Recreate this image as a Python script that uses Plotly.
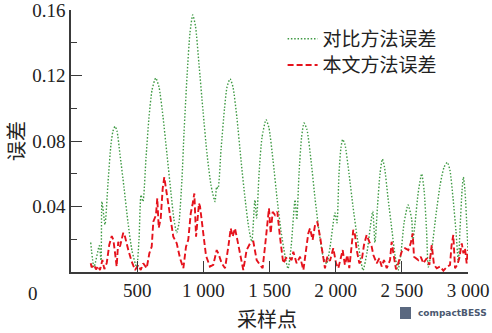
import plotly.graph_objects as go

# ---- data ----
cmp_x = [149, 174, 214, 227, 234, 257, 280, 302, 317, 333, 348, 370, 400, 431, 461, 496,
         514, 529, 544, 567, 589, 612, 640, 665, 695, 725, 756, 778, 799, 816, 838,
         854, 877, 899, 920, 941, 967, 998, 1028, 1058, 1088, 1101, 1111,
         1134, 1160, 1179, 1202, 1224, 1254, 1285, 1315, 1345, 1366, 1390, 1403,
         1421, 1443, 1474, 1496, 1527, 1557, 1587, 1617, 1640, 1663, 1693, 1706,
         1723, 1742, 1761, 1783, 1814, 1844, 1874, 1904, 1932, 1957, 1995, 2010,
         2025, 2040, 2053, 2070, 2101, 2131, 2161, 2184, 2207, 2237, 2280, 2297,
         2316, 2335, 2353, 2369, 2396, 2426, 2449, 2471, 2494, 2517, 2547, 2575, 2582,
         2600, 2623, 2650, 2668, 2687, 2700, 2728, 2758, 2789, 2819, 2844, 2864, 2887,
         2909, 2927, 2939, 2955, 2965, 2977, 2993, 3000]
cmp_err = [0.018, 0.003, 0.016, 0.007, 0.043, 0.029, 0.055, 0.078, 0.086, 0.089, 0.086, 0.072, 0.052, 0.030, 0.013, 0.003,
           0.020, 0.047, 0.043, 0.070, 0.094, 0.111, 0.1185, 0.113, 0.095, 0.072, 0.048, 0.032, 0.024, 0.030, 0.056,
           0.085, 0.120, 0.146, 0.157, 0.150, 0.127, 0.098, 0.072, 0.053, 0.043, 0.052, 0.051,
           0.075, 0.100, 0.113, 0.118, 0.113, 0.094, 0.068, 0.045, 0.026, 0.0185, 0.044, 0.033,
           0.060, 0.082, 0.093, 0.088, 0.068, 0.045, 0.025, 0.010, 0.002, 0.015, 0.044, 0.032,
           0.060, 0.082, 0.091, 0.087, 0.068, 0.045, 0.025, 0.010, 0.005, 0.015, 0.036, 0.030,
           0.060, 0.076, 0.081, 0.078, 0.060, 0.040, 0.022, 0.010, 0.001, 0.012, 0.037, 0.018,
           0.040, 0.060, 0.069, 0.064, 0.045, 0.025, 0.010, 0.001, 0.012, 0.030, 0.041, 0.032, 0.018,
           0.030, 0.048, 0.060, 0.050, 0.025, 0.003, 0.015, 0.035, 0.053, 0.064, 0.067, 0.062, 0.045,
           0.025, 0.006, 0.025, 0.050, 0.058, 0.050, 0.025, 0.013]

our_x = [149, 156, 174, 189, 206, 219, 237, 252, 270, 289, 308, 320, 333, 345, 357, 370, 395, 408,
         433, 459, 484, 509, 527, 546, 572, 592, 610, 622, 642, 652, 663, 678, 693, 705, 723, 748,
         773, 799, 824, 849, 869, 886, 905, 920, 932, 945, 957, 967, 975, 995, 1020, 1050, 1075,
         1101, 1113, 1139, 1164, 1189, 1207, 1222, 1239, 1257, 1277, 1302, 1327, 1353, 1378, 1403,
         1428, 1448, 1466, 1479, 1496, 1509, 1524, 1542, 1559, 1579, 1604, 1624, 1642, 1667, 1680,
         1705, 1731, 1756, 1776, 1793, 1806, 1826, 1844, 1861, 1882, 1902, 1919, 1937, 1957, 1982,
         2003, 2020, 2038, 2053, 2070, 2088, 2103, 2121, 2133, 2146, 2159, 2179, 2197, 2214, 2234,
         2254, 2272, 2285, 2310, 2330, 2348, 2365, 2386, 2411, 2423, 2436, 2456, 2473, 2499, 2524,
         2549, 2567, 2582, 2592, 2607, 2625, 2643, 2663, 2688, 2708, 2726, 2743, 2764, 2789, 2814,
         2839, 2864, 2876, 2889, 2902, 2919, 2934, 2953, 2965, 2977, 2990, 2998]
our_err = [0.0053, 0.0029, 0.0043, 0.0016, 0.0037, 0.0012, 0.0073, 0.0018, 0.0055, 0.0165, 0.022, 0.0196,
           0.0116, 0.0033, 0.0185, 0.0155, 0.024, 0.0216, 0.0134, 0.0063, 0.0012, 0.0043, 0.0012, 0.0053,
           0.0023, 0.0114, 0.0155, 0.0307, 0.0348, 0.045, 0.0269, 0.0328, 0.0511, 0.0579, 0.0481, 0.0359,
           0.0216, 0.0175, 0.0084, 0.0023, 0.0155, 0.0196, 0.0359, 0.042, 0.048, 0.0216, 0.0359, 0.042,
           0.040, 0.028, 0.010, 0.0033, 0.0043, 0.0134, 0.0114, 0.0053, 0.0023, 0.0155, 0.0267, 0.0216,
           0.0267, 0.0196, 0.0114, 0.0012, 0.0134, 0.0175, 0.0185, 0.0073, 0.0043, 0.0023, 0.0155, 0.0277,
           0.0389, 0.0236, 0.0368, 0.0348, 0.0368, 0.0216, 0.0053, 0.0084, 0.0093, 0.0073, 0.0124, 0.0053,
           0.0093, 0.0012, 0.0134, 0.0236, 0.0267, 0.0196, 0.0287, 0.0307, 0.0216, 0.0093, 0.0023, 0.0093,
           0.0068, 0.0145, 0.0053, 0.0023, 0.0093, 0.0134, 0.0043, 0.0104, 0.0023, 0.0165, 0.0257, 0.0226,
           0.0134, 0.0053, 0.0073, 0.0165, 0.0226, 0.0185, 0.0155, 0.0104, 0.0053, 0.0084, 0.0033, 0.0073,
           0.0023, 0.0073, 0.0185, 0.0114, 0.0016, 0.0053, 0.0124, 0.0145, 0.0134, 0.0175, 0.0236, 0.0093,
           0.0084, 0.0073, 0.0093, 0.0053, 0.0084, 0.0043, 0.0165, 0.0043, 0.0023, 0.0033, 0.0008, 0.0029,
           0.0043, 0.0165, 0.0226, 0.0023, 0.0043, 0.0084, 0.0175, 0.0114, 0.0145, 0.0053, 0.0134]

series_names = ["对比方法误差", "本文方法误差"]
x_tickvals = [500, 1000, 1500, 2000, 2500, 3000]
x_ticktext = ["500", "1 000", "1 500", "2 000", "2 500", "3 000"]
y_tickvals = [0.04, 0.08, 0.12, 0.16]
y_ticktext = ["0.04", "0.08", "0.12", "0.16"]
x_title = "采样点"
y_title = "误差"

SERIF = "Liberation Serif, Times New Roman, serif"
CJK = "Noto Sans CJK SC"
AXC = "#3a3a3a"

fig = go.Figure()
fig.add_trace(go.Scatter(x=cmp_x, y=cmp_err, mode="lines", name=series_names[0], legend="legend",
                         line=dict(color="#3f9a44", width=1.4, dash="1.5px,1.8px", shape="spline", smoothing=0.6)))
fig.add_trace(go.Scatter(x=our_x, y=our_err, mode="lines", name=series_names[1], legend="legend2",
                         line=dict(color="#e5121c", width=1.9, dash="6px,3px")))

leg_common = dict(x=0.533, xanchor="left", yanchor="top",
                  font=dict(family=CJK, size=19, color="#222"),
                  bgcolor="rgba(0,0,0,0)", itemwidth=30)

fig.update_layout(
    width=492, height=333,
    margin=dict(l=71, r=24, t=10, b=61),
    paper_bgcolor="white", plot_bgcolor="white",
    font=dict(family=SERIF, size=19, color="#222"),
    showlegend=True,
    legend=dict(y=0.962, **leg_common),
    legend2=dict(y=0.862, **leg_common),
    xaxis=dict(range=[0, 3000], tickvals=x_tickvals, ticktext=x_ticktext, automargin=False,
               showgrid=False, zeroline=False, showline=True, linecolor=AXC, linewidth=1.5,
               ticks="inside", ticklen=11, tickwidth=1.3, tickcolor=AXC, ticklabeloverflow="allow",
               tickfont=dict(family=SERIF, size=19, color="#222")),
    yaxis=dict(range=[0, 0.16005], tickvals=y_tickvals, ticktext=y_ticktext, automargin=False,
               showgrid=False, zeroline=False, showline=True, linecolor=AXC, linewidth=1.5,
               ticks="inside", ticklen=11, tickwidth=1.3, tickcolor=AXC, ticklabeloverflow="allow",
               tickfont=dict(family=SERIF, size=19, color="#222"),
               minor=dict(tick0=0, dtick=0.02, ticks="inside", ticklen=6, tickwidth=1.2, tickcolor=AXC)),
)

# origin "0" label, placed left of the axis as in the reference
fig.add_annotation(text="0", xref="paper", yref="paper", x=-0.0957, y=0, xanchor="center", yanchor="middle",
                   yshift=-21, showarrow=False, font=dict(family=SERIF, size=19, color="#222"))
# axis titles
fig.add_annotation(text=x_title, xref="paper", yref="paper", x=0.494, y=0, xanchor="center", yanchor="middle",
                   yshift=-46, showarrow=False, font=dict(family=CJK, size=20, color="#222"))
fig.add_annotation(text=y_title, xref="paper", yref="paper", x=-0.141, y=0.5, xanchor="center", yanchor="middle",
                   textangle=-90, showarrow=False, font=dict(family=CJK, size=20, color="#222"))
# bottom-right logo
fig.add_annotation(text="<b>compactBESS</b>", xref="paper", yref="paper", x=(416 - 71) / 397, y=0,
                   xanchor="left", yanchor="middle", yshift=-41, showarrow=False,
                   font=dict(family="DejaVu Sans, sans-serif", size=9, color="#4a5870"))
fig.add_shape(type="rect", xref="paper", yref="paper", x0=(400 - 71) / 397, x1=(411 - 71) / 397,
              y0=(272 - 319) / 262, y1=(272 - 307) / 262, fillcolor="#5a6880", line=dict(width=0))

fig.write_html("out.html")
